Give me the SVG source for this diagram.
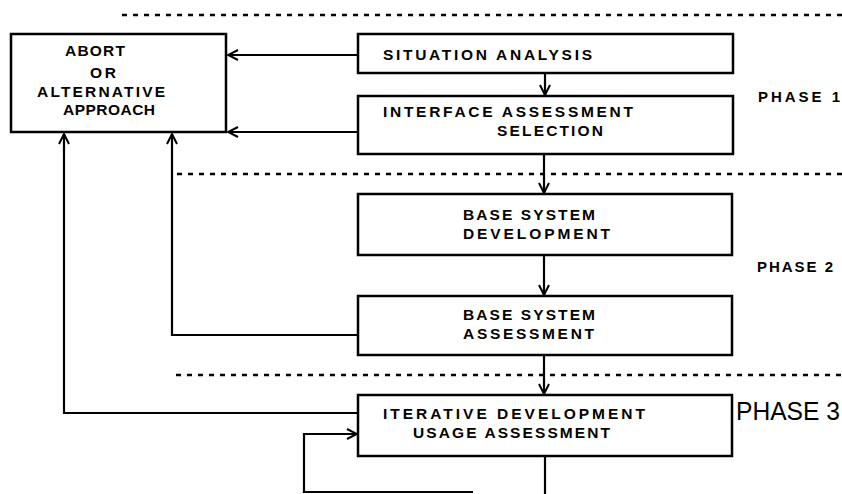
<svg xmlns="http://www.w3.org/2000/svg" width="842" height="494" viewBox="0 0 842 494">
<defs>
<marker id="arr" viewBox="0 0 12 12" refX="11" refY="6" markerWidth="12" markerHeight="12" markerUnits="userSpaceOnUse" orient="auto">
<path d="M1,1 L11,6 L1,11" fill="none" stroke="#000" stroke-width="2"/>
</marker>
<style>
.box{fill:#fff;stroke:#000;stroke-width:2.5}
.t{font-family:"Liberation Sans",Arial,sans-serif;font-weight:bold;font-size:15.5px;fill:#000}
.ph{font-family:"Liberation Sans",Arial,sans-serif;font-weight:bold;font-size:15px;fill:#000}
.ph3{font-family:"Liberation Sans",Arial,sans-serif;font-size:25px;fill:#000}
.c{fill:none;stroke:#000;stroke-width:2.2}
.d{fill:none;stroke:#000;stroke-width:2.5;stroke-dasharray:5 6}
</style>
</defs>
<rect width="842" height="494" fill="#fff"/>
<g id="separators">
<line class="d" x1="122" y1="15" x2="842" y2="15"/>
<line class="d" x1="177" y1="174" x2="842" y2="174"/>
<line class="d" x1="176" y1="375" x2="842" y2="375"/>
</g>
<g id="connectors">
<line class="c" x1="358" y1="55" x2="228" y2="55" marker-end="url(#arr)"/>
<line class="c" x1="358" y1="132" x2="228" y2="132" marker-end="url(#arr)"/>
<line class="c" x1="545" y1="73" x2="545" y2="95" marker-end="url(#arr)"/>
<line class="c" x1="544" y1="154" x2="544" y2="193" marker-end="url(#arr)"/>
<line class="c" x1="544" y1="255" x2="544" y2="295" marker-end="url(#arr)"/>
<line class="c" x1="544" y1="355" x2="544" y2="394" marker-end="url(#arr)"/>
<polyline class="c" points="358,335 172,335 172,134" marker-end="url(#arr)"/>
<polyline class="c" points="358,413 64,413 64,134" marker-end="url(#arr)"/>
<line class="c" x1="545" y1="456" x2="545" y2="494"/>
<polyline class="c" points="473,492 304,492 304,434 357,434" marker-end="url(#arr)"/>
</g>
<g id="abort">
<rect class="box" x="11" y="34" width="215" height="98"/>
<text class="t" x="65" y="56" textLength="60" lengthAdjust="spacing">ABORT</text>
<text class="t" x="90" y="78" textLength="26" lengthAdjust="spacing">OR</text>
<text class="t" x="37" y="97" textLength="128" lengthAdjust="spacing">ALTERNATIVE</text>
<text class="t" x="63" y="115" textLength="92" lengthAdjust="spacing">APPROACH</text>
</g>
<g id="situation-analysis">
<rect class="box" x="358" y="34" width="375" height="39"/>
<text class="t" x="383" y="60" textLength="209" lengthAdjust="spacing">SITUATION ANALYSIS</text>
</g>
<g id="interface-assessment">
<rect class="box" x="358" y="96" width="375" height="58"/>
<text class="t" x="383" y="117" textLength="250" lengthAdjust="spacing">INTERFACE ASSESSMENT</text>
<text class="t" x="497" y="136" textLength="106" lengthAdjust="spacing">SELECTION</text>
</g>
<g id="base-system-development">
<rect class="box" x="358" y="194" width="374" height="61"/>
<text class="t" x="463" y="220" textLength="132" lengthAdjust="spacing">BASE SYSTEM</text>
<text class="t" x="463" y="239" textLength="147" lengthAdjust="spacing">DEVELOPMENT</text>
</g>
<g id="base-system-assessment">
<rect class="box" x="358" y="296" width="374" height="59"/>
<text class="t" x="463" y="320" textLength="132" lengthAdjust="spacing">BASE SYSTEM</text>
<text class="t" x="463" y="339" textLength="131" lengthAdjust="spacing">ASSESSMENT</text>
</g>
<g id="iterative-development">
<rect class="box" x="358" y="395" width="374" height="61"/>
<text class="t" x="383" y="419" textLength="262" lengthAdjust="spacing">ITERATIVE DEVELOPMENT</text>
<text class="t" x="413" y="438" textLength="197" lengthAdjust="spacing">USAGE ASSESSMENT</text>
</g>
<g id="phase-labels">
<text class="ph" x="758" y="102" textLength="82" lengthAdjust="spacing">PHASE 1</text>
<text class="ph" x="757" y="272" textLength="76" lengthAdjust="spacing">PHASE 2</text>
<text class="ph3" x="736" y="420" textLength="104" lengthAdjust="spacingAndGlyphs">PHASE 3</text>
</g>
</svg>
